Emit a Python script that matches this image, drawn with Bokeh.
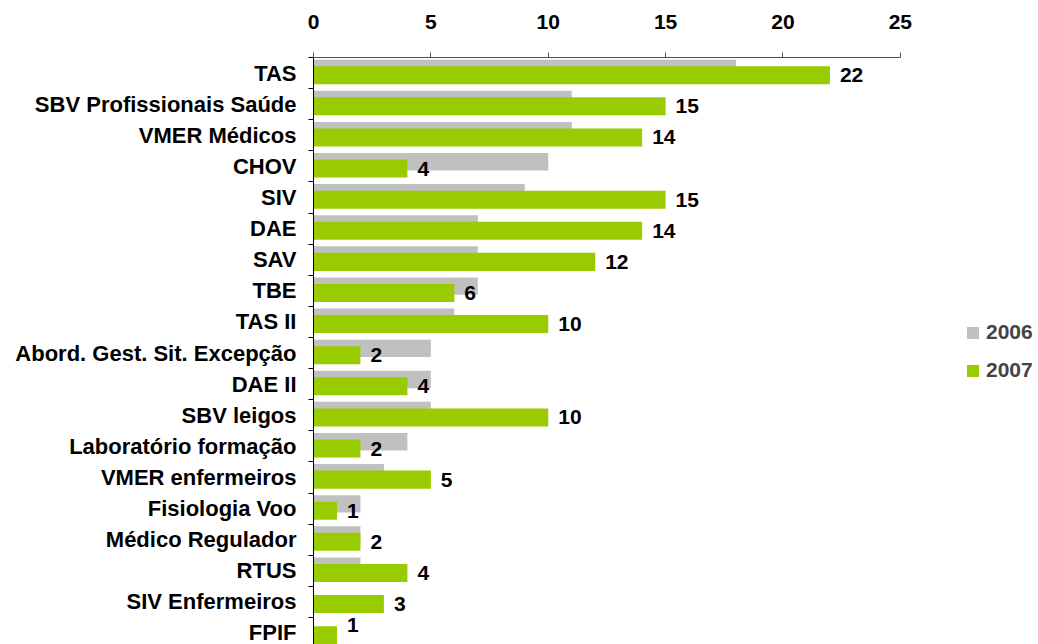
from bokeh.plotting import figure
from bokeh.models import ColumnDataSource, FixedTicker, Range1d, Legend, LegendItem
from bokeh.transform import dodge
from bokeh.embed import file_html
from bokeh.resources import INLINE

categories = ["TAS", "SBV Profissionais Saúde", "VMER Médicos", "CHOV", "SIV", "DAE", "SAV",
              "TBE", "TAS II", "Abord. Gest. Sit. Excepção", "DAE II", "SBV leigos",
              "Laboratório formação", "VMER enfermeiros", "Fisiologia Voo", "Médico Regulador",
              "RTUS", "SIV Enfermeiros", "FPIF"]
values_2006 = [18, 11, 11, 10, 9, 7, 7, 7, 6, 5, 5, 5, 4, 3, 2, 2, 2, 0, 0]
values_2007 = [22, 15, 14, 4, 15, 14, 12, 6, 10, 2, 4, 10, 2, 5, 1, 2, 4, 3, 1]
x_ticks = [0, 5, 10, 15, 20, 25]

idx = list(range(len(categories)))
# label row positions: centred on the 2007 bar, kept inside the visible frame
label_y = [min(i + 0.07, 17.75) for i in idx]
src = ColumnDataSource(dict(idx=idx, cat=categories, g06=values_2006, g07=values_2007,
                            ly=label_y, lbl=[str(v) for v in values_2007]))

FONT = "Liberation Sans"
# the frame runs on to the right edge so the legend can sit inside it;
# the axis itself is bounded to 0..25
p = figure(width=1036, height=644, output_backend="svg", toolbar_location=None,
           x_axis_location="above", x_range=Range1d(0, 30.8),
           y_range=Range1d(18.37, -0.5),
           min_border_left=313, min_border_right=0, min_border_top=57, min_border_bottom=0)
p.outline_line_color = None
p.xgrid.visible = False
p.ygrid.visible = False

gray = p.hbar(y=dodge("idx", -0.15, range=p.y_range), right="g06", left=0, height=0.56,
              source=src, fill_color="#C0C0C0", line_color=None)
green = p.hbar(y=dodge("idx", 0.07, range=p.y_range), right="g07", left=0, height=0.58,
               source=src, fill_color="#99CC00", line_color=None)
p.text(x="g07", y="ly", text="lbl", source=src,
       x_offset=10, text_baseline="middle", text_align="left",
       text_font={"value": FONT}, text_font_style="bold", text_font_size="21px",
       text_color="black")

xa = p.xaxis[0]
xa.ticker = FixedTicker(ticks=x_ticks)
xa.bounds = (0, 25)
xa.major_tick_out = 5
xa.major_tick_in = 0
xa.minor_tick_out = 0
xa.minor_tick_in = 0
xa.major_label_standoff = 24
xa.major_label_text_font = FONT
xa.major_label_text_font_style = "bold"
xa.major_label_text_font_size = "21px"
xa.major_label_text_color = "black"
xa.axis_line_color = "#505050"
xa.major_tick_line_color = "#505050"

ya = p.yaxis[0]
ya.ticker = FixedTicker(ticks=idx, minor_ticks=[i - 0.5 for i in range(len(categories) + 1)])
ya.major_label_overrides = {i: c for i, c in zip(idx, categories)}
ya.major_tick_out = 0
ya.major_tick_in = 0
ya.minor_tick_out = 5
ya.minor_tick_in = 0
ya.major_label_standoff = 12
ya.major_label_text_font = FONT
ya.major_label_text_font_style = "bold"
ya.major_label_text_font_size = "22px"
ya.major_label_text_color = "black"
ya.axis_line_color = "black"
ya.minor_tick_line_color = "black"

legend = Legend(items=[LegendItem(label="2006", renderers=[gray]),
                       LegendItem(label="2007", renderers=[green])],
                location=(652, 262), orientation="vertical")
legend.margin = 0
legend.padding = 0
legend.spacing = 14
legend.glyph_width = 15
legend.glyph_height = 15
legend.label_standoff = 6
legend.label_text_font = FONT
legend.label_text_font_style = "bold"
legend.label_text_font_size = "21px"
legend.border_line_color = None
legend.background_fill_alpha = 0
p.add_layout(legend, "center")

open("out.html", "w").write(file_html(p, INLINE))
